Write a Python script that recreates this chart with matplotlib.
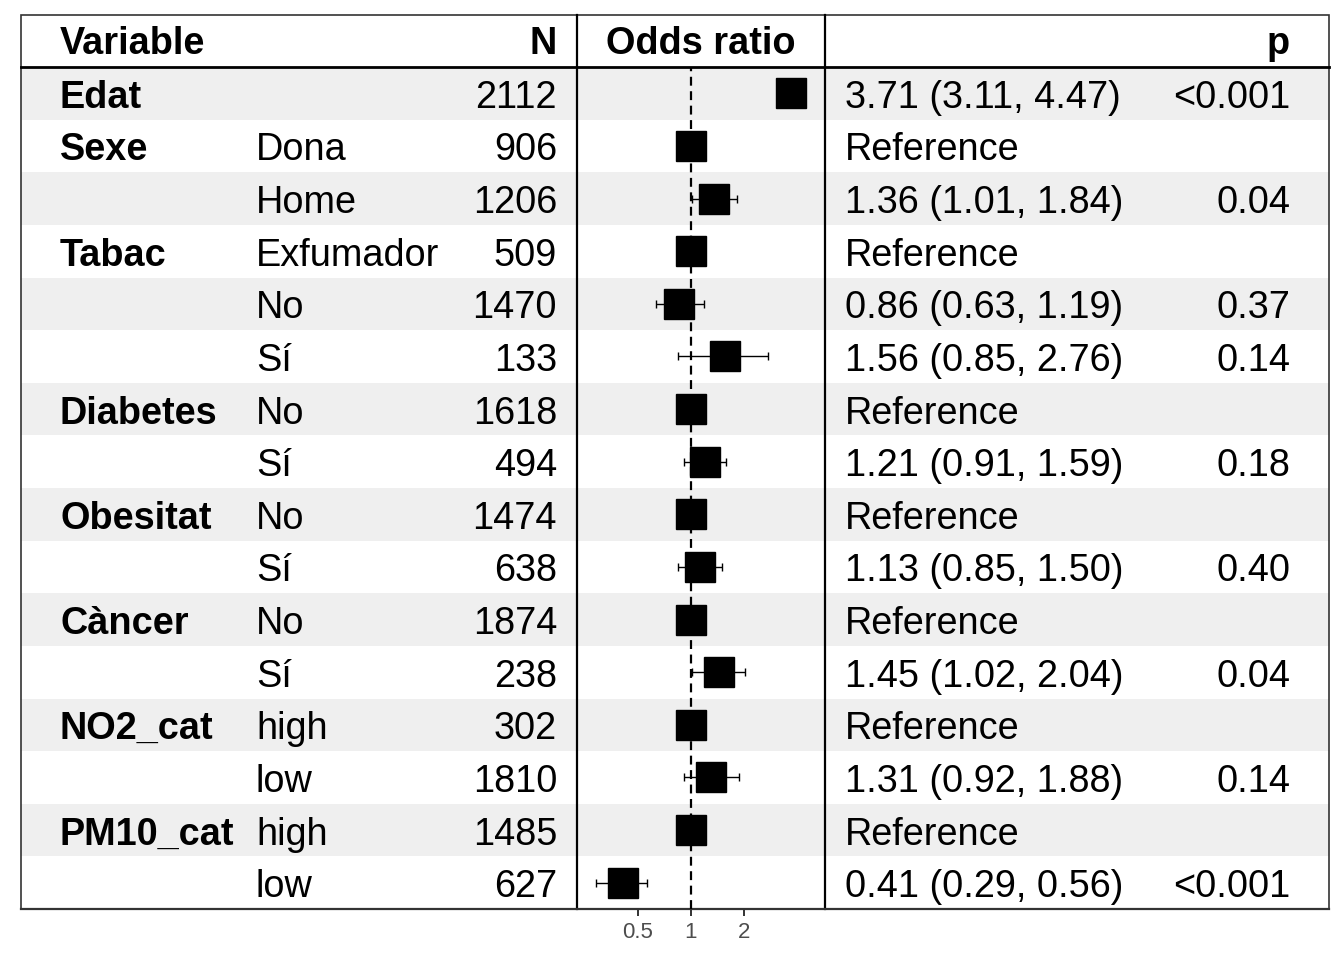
import matplotlib
matplotlib.use("Agg")
import matplotlib.pyplot as plt
import numpy as np

plt.rcParams["font.family"] = ["Liberation Sans", "DejaVu Sans"]

variables = ["Edat", "Sexe", "", "Tabac", "", "", "Diabetes", "", "Obesitat", "",
             "Càncer", "", "NO2_cat", "", "PM10_cat", ""]
levels = ["", "Dona", "Home", "Exfumador", "No", "Sí", "No", "Sí", "No", "Sí",
          "No", "Sí", "high", "low", "high", "low"]
n_obs = [2112, 906, 1206, 509, 1470, 133, 1618, 494, 1474, 638, 1874, 238,
         302, 1810, 1485, 627]
odds = [3.71, 1, 1.36, 1, 0.86, 1.56, 1, 1.21, 1, 1.13, 1, 1.45, 1, 1.31, 1, 0.41]
lower = [3.11, np.nan, 1.01, np.nan, 0.63, 0.85, np.nan, 0.91, np.nan, 0.85,
         np.nan, 1.02, np.nan, 0.92, np.nan, 0.29]
upper = [4.47, np.nan, 1.84, np.nan, 1.19, 2.76, np.nan, 1.59, np.nan, 1.50,
         np.nan, 2.04, np.nan, 1.88, np.nan, 0.56]
p_values = ["<0.001", "", "0.04", "", "0.37", "0.14", "", "0.18", "", "0.40",
            "", "0.04", "", "0.14", "", "<0.001"]
x_ticks = [0.5, 1, 2]

W, H = 1344, 960
left, right = 21, 1329
top, head_bottom, bottom = 15, 67, 909
forest_l, forest_r = 577, 825
n_rows = len(variables)
row_h = (bottom - head_bottom) / n_rows
fs = 27.3

fig = plt.figure(figsize=(W / 100, H / 100), dpi=100)
ax = fig.add_axes([0, 0, 1, 1])
ax.set_xlim(0, W)
ax.set_ylim(H, 0)
ax.axis("off")

# striped rows
for i in range(n_rows):
    if i % 2 == 0:
        y0 = head_bottom + i * row_h
        ax.add_patch(plt.Rectangle((left, y0), right - left, row_h,
                                   color="#efefef", lw=0, zorder=0))

# borders
ax.add_patch(plt.Rectangle((left, top), right - left, bottom - top, fill=False,
                           ec="#333333", lw=1.2, zorder=3))
ax.plot([left, right], [head_bottom, head_bottom], color="black", lw=2, zorder=3)
for xv in (forest_l, forest_r):
    ax.plot([xv, xv], [top, bottom], color="black", lw=1.6, zorder=3)
ax.plot([left, right], [bottom, bottom], color="#333333", lw=1.6, zorder=3)

# header
hy = (top + head_bottom) / 2 + 3
ax.text(60, hy, "Variable", fontsize=fs, fontweight="bold", va="center", ha="left")
ax.text(557, hy, "N", fontsize=fs, fontweight="bold", va="center", ha="right")
ax.text((forest_l + forest_r) / 2, hy, "Odds ratio", fontsize=fs,
        fontweight="bold", va="center", ha="center")
ax.text(1290, hy, "p", fontsize=fs, fontweight="bold", va="center", ha="right")

for i in range(n_rows):
    yc = head_bottom + (i + 0.5) * row_h + 4.5
    ax.text(60, yc, variables[i], fontsize=fs, fontweight="bold", va="center")
    ax.text(256, yc, levels[i], fontsize=fs, va="center")
    ax.text(557, yc, str(n_obs[i]), fontsize=fs, va="center", ha="right")
    if np.isnan(lower[i]):
        est = "Reference"
    else:
        est = f"{odds[i]:.2f} ({lower[i]:.2f}, {upper[i]:.2f})"
    ax.text(845, yc, est, fontsize=fs, va="center", ha="left")
    ax.text(1290, yc, p_values[i], fontsize=fs, va="center", ha="right")

# forest panel
fax = fig.add_axes([forest_l / W, 1 - bottom / H, (forest_r - forest_l) / W,
                    (bottom - head_bottom) / H])
fax.patch.set_alpha(0)
fax.set_xscale("log")
fax.set_xlim(0.225, 5.8)
fax.set_ylim(n_rows - 0.5, -0.5)
ypos = np.arange(n_rows)
odds_a = np.array(odds)
lo_a = np.array(lower)
hi_a = np.array(upper)
fax.axvline(1, color="black", ls=(0, (4, 2.5)), lw=1.6, zorder=1)
mask = ~np.isnan(lo_a)
fax.errorbar(odds_a[mask], ypos[mask],
             xerr=[odds_a[mask] - lo_a[mask], hi_a[mask] - odds_a[mask]],
             fmt="none", ecolor="black", elinewidth=1, capsize=3, capthick=1,
             zorder=2)
fax.plot(odds_a, ypos, "s", color="black", ms=21.5, zorder=3)
for s in fax.spines.values():
    s.set_visible(False)
fax.set_yticks([])
fax.set_xticks(x_ticks)
fax.set_xticklabels([f"{t:g}" for t in x_ticks])
fax.xaxis.set_minor_locator(matplotlib.ticker.NullLocator())
fax.tick_params(axis="x", length=5, width=1.4, color="#333333",
                labelcolor="#4d4d4d", labelsize=16, pad=4)

fig.savefig("out.png", dpi=100)
